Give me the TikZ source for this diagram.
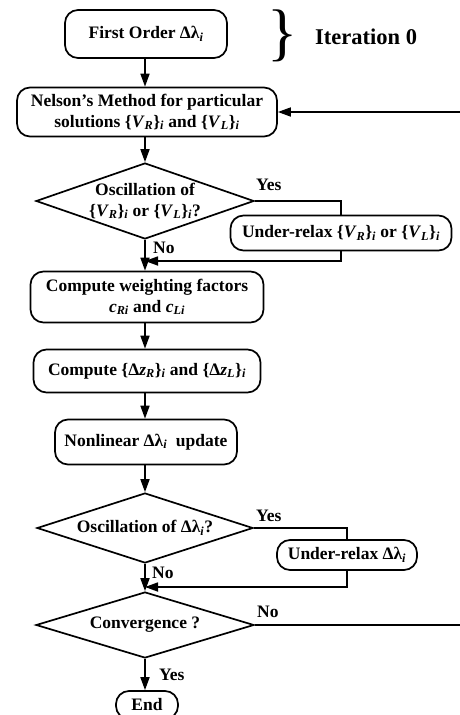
\documentclass[tikz,border=0pt]{standalone}
\usepackage{fontspec}
\setmainfont{Liberation Serif}
\usetikzlibrary{shapes.geometric,arrows.meta}
\newcommand{\flowfont}{\fontsize{17.5}{21}\selectfont\bfseries}
\newcommand{\isub}[1]{\textsubscript{\itshape #1}}
\tikzstyle{block}=[rectangle, rounded corners=13pt, draw=black, line width=1.7pt, fill=white, align=center, inner sep=2pt, font=\flowfont]
\tikzstyle{decision}=[diamond, draw=black, line width=1.7pt, fill=white, align=center, inner sep=0pt, aspect=2.9, font=\flowfont]
\tikzstyle{annot}=[anchor=west, inner sep=0pt, font=\flowfont]
\tikzstyle{line}=[line width=1.7pt]
\tikzstyle{arrow}=[line, -{Triangle[length=13pt,width=9pt]}]

\begin{document}
\begin{tikzpicture}[x=1pt,y=-1pt]
	\useasboundingbox (0,0) rectangle (460,715);

	% main column
	\node[block, minimum width=162, minimum height=48](first) at (146,34) {First Order Δλ\isub{i}};
	\node[block, minimum width=260, minimum height=49](nelson) at (147,112) {Nelson's Method for particular\\solutions \{\textit{V}\isub{R}\}\isub{i} and \{\textit{V}\isub{L}\}\isub{i}};
	\node[decision, minimum width=218, minimum height=76](osc1) at (145,201) {Oscillation of\\\{\textit{V}\isub{R}\}\isub{i} or \{\textit{V}\isub{L}\}\isub{i}?};
	\node[block, minimum width=233, minimum height=51](weight) at (147,297) {Compute weighting factors\\\textit{c}\isub{Ri} and \textit{c}\isub{Li}};
	\node[block, minimum width=227, minimum height=43](dz) at (147,371) {Compute \{Δ\textit{z}\isub{R}\}\isub{i} and \{Δ\textit{z}\isub{L}\}\isub{i}};
	\node[block, minimum width=182, minimum height=45](nonlin) at (146,442) {Nonlinear Δλ\isub{i}\ \ update};
	\node[decision, minimum width=216, minimum height=70](osc2) at (145,528) {Oscillation of Δλ\isub{i}?};
	\node[decision, minimum width=218, minimum height=66](conv) at (145,625) {Convergence ?};
	\node[block, minimum width=62, minimum height=28](end) at (147,705) {End};

	% side branches
	\node[block, minimum width=221, minimum height=35](relax1) at (341,233) {Under-relax \{\textit{V}\isub{R}\}\isub{i} or \{\textit{V}\isub{L}\}\isub{i}};
	\node[block, minimum width=140, minimum height=30](relax2) at (347,555) {Under-relax Δλ\isub{i}};

	% iteration 0 note
	\node[inner sep=0pt, font=\fontsize{63}{63}\selectfont](brace) at (283,36) {\}};
	\node[annot, font=\fontsize{22.5}{26}\selectfont\bfseries](iter) at (315,37) {Iteration 0};

	\coordinate (m1) at (145,261);
	\coordinate (m2) at (145,587);
	\coordinate (loopa) at (470,625);
	\coordinate (loopb) at (470,112);

	\draw[arrow] (first.south -| osc1.north) -- (osc1.north |- nelson.north);
	\draw[arrow] (osc1.north |- nelson.south) -- (osc1.north);
	\draw[line] (osc1.south) -- (m1);
	\draw[arrow] (m1) -- (osc1.south |- weight.north);
	\draw[line] (osc1.east) -- (osc1.east -| relax1.north) -- (relax1.north);
	\draw[arrow] (relax1.south) -- (relax1.south |- m1) -- (m1);
	\draw[arrow] (osc1.south |- weight.south) -- (osc1.south |- dz.north);
	\draw[arrow] (osc1.south |- dz.south) -- (osc1.south |- nonlin.north);
	\draw[arrow] (osc1.south |- nonlin.south) -- (osc2.north);
	\draw[line] (osc2.south) -- (m2);
	\draw[arrow] (m2) -- (conv.north);
	\draw[line] (osc2.east) -- (osc2.east -| relax2.north) -- (relax2.north);
	\draw[arrow] (relax2.south) -- (relax2.south |- m2) -- (m2);
	\draw[arrow] (conv.south) -- (conv.south |- end.north);
	\draw[arrow] (conv.east) -- (loopa) -- (loopb) -- (nelson.east);

	\node[annot](yes1) at (256,185) {Yes};
	\node[annot](no1) at (153,248) {No};
	\node[annot](yes2) at (256,516) {Yes};
	\node[annot](no2) at (152,573) {No};
	\node[annot](no3) at (257,612) {No};
	\node[annot](yes3) at (159,675) {Yes};
\end{tikzpicture}
\end{document}
